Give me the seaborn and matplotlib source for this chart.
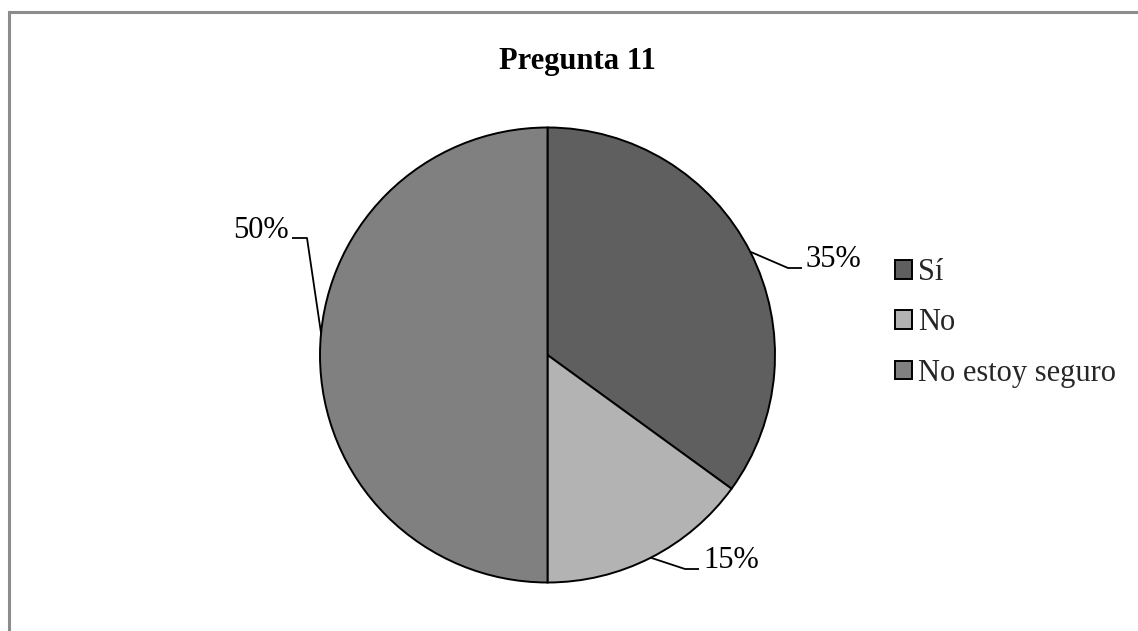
import matplotlib

matplotlib.use("Agg")

import matplotlib.pyplot as plt
import numpy as np
import seaborn as sns
from matplotlib.patches import Rectangle

categories = ["Sí", "No", "No estoy seguro"]
values = [35, 15, 50]
colors = ["#5f5f5f", "#b3b3b3", "#808080"]

W, H = 1138, 631


def py(y):
    # pixel row (from top) -> data y
    return H - y


sns.set_theme(style="white")
plt.rcParams["font.family"] = ["Liberation Serif", "DejaVu Serif"]

fig = plt.figure(figsize=(W / 100, H / 100), dpi=100)
ax = fig.add_axes([0, 0, 1, 1])

# chart area border (runs off the right and bottom edges)
fig.patches.append(Rectangle((9 / W, -0.05), 1.2, 1 - 12 / H + 0.05, transform=fig.transFigure,
                             fill=False, edgecolor="#8c8c8c", linewidth=2.2))

cx, cy, r = 547.5, py(355), 227.5
wedges, _ = ax.pie(values, colors=colors, startangle=90, counterclock=False,
                   center=(cx, cy), radius=r, frame=True,
                   wedgeprops=dict(edgecolor="black", linewidth=1.4))
ax.set_xlim(0, W)
ax.set_ylim(0, H)
ax.axis("off")

# leader layout: angle nudge, elbow, line end, text x, text baseline, alignment
layout = [
    (0, (788, 268), (802, 268), 806, 267, "left"),
    (0, (685, 569), (699, 569), 703, 568, "left"),
    (-5.5, (307, 238), (292, 238), 289, 238, "right"),
]
for w, v, (nudge, elbow, end, tx, ty, ha) in zip(wedges, values, layout):
    ang = np.deg2rad((w.theta1 + w.theta2) / 2 + nudge)
    x0 = cx + r * np.cos(ang)
    y0 = cy + r * np.sin(ang)
    ax.plot([x0, elbow[0], end[0]], [y0, py(elbow[1]), py(end[1])],
            color="black", linewidth=1.3, solid_capstyle="butt")
    ax.text(tx, py(ty), f"{v:.0f}%", ha=ha, va="baseline", fontsize=22, color="black")

fig.text(577 / W, 1 - 69 / H, "Pregunta 11", ha="center", va="baseline",
         fontsize=22, fontweight="bold", color="black")

ax.legend(wedges, categories, loc="center left", bbox_to_anchor=(895 / W, 1 - 323 / H),
          bbox_transform=fig.transFigure, frameon=False, fontsize=22,
          handlelength=0.55, handleheight=0.55, handletextpad=0.2,
          labelspacing=0.7, borderpad=0, borderaxespad=0)

fig.savefig("out.png", dpi=100, facecolor="white")
